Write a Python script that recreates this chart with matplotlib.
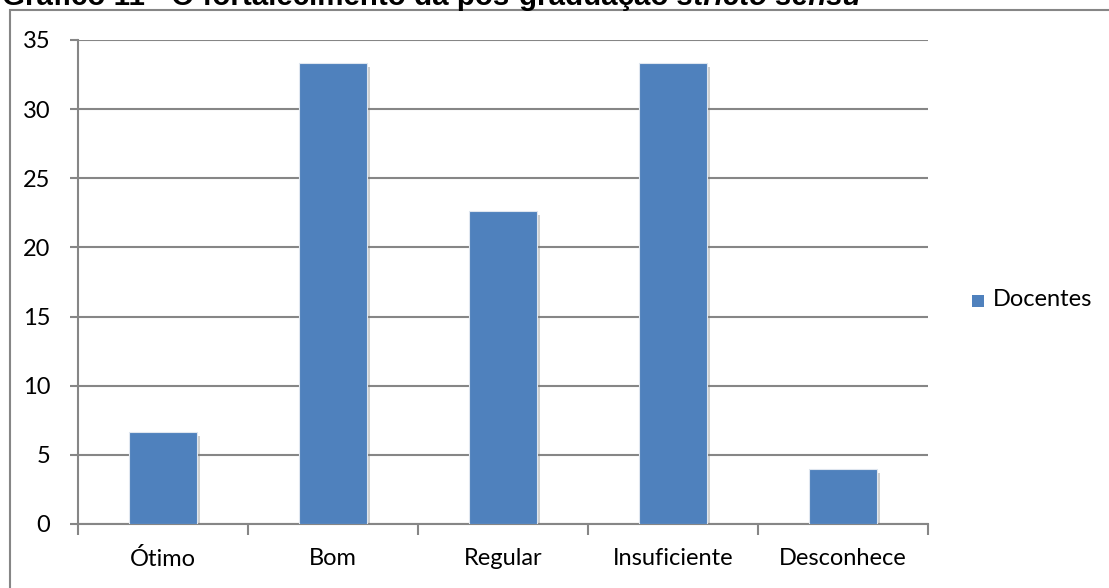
import matplotlib
matplotlib.use("Agg")
import matplotlib.pyplot as plt
from matplotlib.patches import Rectangle
import matplotlib.patheffects as pe

categories = ["Ótimo", "Bom", "Regular", "Insuficiente", "Desconhece"]
docentes = [6.67, 33.33, 22.67, 33.33, 4.0]
yticks = [0, 5, 10, 15, 20, 25, 30, 35]
series_name = "Docentes"
title_a = "Gráfico 11 - O fortalecimento da pós-graduação "
title_b = "stricto sensu"

W, H = 1109, 588
fig = plt.figure(figsize=(W / 100, H / 100), dpi=100)
FONT = "Lato"
FS = 17
bar_color = "#4F81BD"
grid_color = "#868686"

def px(x0, y0, x1, y1):
    return [x0 / W, 1 - y1 / H, (x1 - x0) / W, (y1 - y0) / H]

# outer chart border
fig.patches.append(Rectangle((10 / W, -0.1), 1.2, 1 - 10 / H + 0.1, transform=fig.transFigure,
                             fill=False, edgecolor=grid_color, linewidth=1.5, zorder=0))

ax = fig.add_axes(px(78, 40, 928, 524))
x = list(range(len(categories)))
bars = ax.bar(x, docentes, width=0.4, color=bar_color, edgecolor="#dfe6ef", linewidth=0.8, zorder=3)
for b in bars:
    b.set_path_effects([pe.SimplePatchShadow(offset=(2, -3), shadow_rgbFace="#777777", alpha=0.35),
                        pe.Normal()])

ax.set_xlim(-0.5, len(categories) - 0.5)
ax.set_ylim(0, 35)
ax.set_yticks(yticks)
ax.set_yticklabels([str(v) for v in yticks], fontname=FONT, fontsize=FS)
ax.yaxis.grid(True, color=grid_color, linewidth=1.5, zorder=0)
ax.set_axisbelow(True)

ax.set_xticks([i + 0.5 for i in range(-1, len(categories))])
ax.set_xticklabels([])
ax.set_xticks(x, minor=True)
ax.set_xticklabels(categories, minor=True, fontname=FONT, fontsize=FS)
ax.tick_params(axis="x", which="major", direction="out", length=8, width=1.5, color=grid_color)
ax.tick_params(axis="x", which="minor", length=0, pad=17)
ax.tick_params(axis="y", direction="out", length=6, width=1.5, color=grid_color, pad=14)

for s in ["top", "right"]:
    ax.spines[s].set_visible(False)
for s in ["left", "bottom"]:
    ax.spines[s].set_color(grid_color)
    ax.spines[s].set_linewidth(1.5)

# legend
fig.patches.append(Rectangle((972 / W, 1 - 307 / H), 12 / W, 12 / H, transform=fig.transFigure,
                             facecolor=bar_color, edgecolor="none"))
fig.text(993 / W, 1 - 300 / H, series_name, fontname=FONT, fontsize=FS, va="center", ha="left")

# title (clipped at top as in the reference)
TFS = 17
t1 = fig.text(2 / W, 1 - 5 / H, title_a, fontname="Liberation Sans", fontweight="bold",
              fontsize=TFS, va="baseline", ha="left")
t2 = fig.text(0, 1 - 5 / H, title_b, fontname="Liberation Sans", fontweight="bold",
              fontstyle="italic", fontsize=TFS, va="baseline", ha="left")
fig.canvas.draw()
r = fig.canvas.get_renderer()
w = t1.get_window_extent(r).width + t2.get_window_extent(r).width
scale = (860 - 2) / w
t1.set_fontsize(TFS * scale)
t2.set_fontsize(TFS * scale)
fig.canvas.draw()
t2.set_x(t1.get_window_extent(r).x1 / W)

fig.savefig("out.png", dpi=100)
